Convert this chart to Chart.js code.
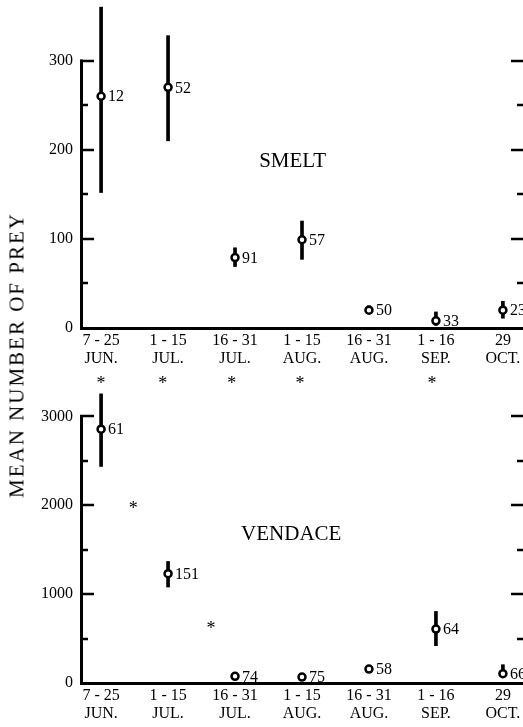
<!DOCTYPE html>
<html><head><meta charset="utf-8">
<script src="https://cdn.jsdelivr.net/npm/chart.js@4/dist/chart.umd.min.js"></script>
<style>
html,body{margin:0;padding:0;background:#fff;}
#wrap{position:relative;width:523px;height:727px;overflow:hidden;background:#fff;}
canvas{display:block;position:absolute;left:0;}
#c1{top:0}
#c2{top:392px}
#ytitle{position:absolute;left:17px;top:355px;transform:translate(-50%,-50%) rotate(-90deg);font:21px "Liberation Serif";letter-spacing:2px;white-space:nowrap;color:#000;}
</style></head>
<body><div id="wrap">
<canvas id="c1" width="523" height="392"></canvas>
<canvas id="c2" width="523" height="335"></canvas>
<div id="ytitle">MEAN NUMBER OF PREY</div>
</div>
<script>
// ---- data ----
const periods = ['7 - 25','1 - 15','16 - 31','1 - 15','16 - 31','1 - 16','29'];
const months  = ['JUN.','JUL.','JUL.','AUG.','AUG.','SEP.','OCT.'];

const smeltMean = [260, 270, 79, 99, 20, 8, 20];
const smeltLow  = [152, 210, 69, 77, 16, 3, 11];
const smeltHigh = [360, 328, 90, 120, 25, 18, 30];
const smeltN    = [12, 52, 91, 57, 50, 33, 23];

const vendaceMean = [2857, 1230, 75, 67, 157, 607, 105];
const vendaceLow  = [2437, 1080, 45, 40, 120, 420, 60];
const vendaceHigh = [3254, 1368, 105, 95, 195, 805, 206];
const vendaceN    = [61, 151, 74, 75, 58, 64, 66];

// significance asterisks (x in period index units)
const starsBetweenSpeciesX = [0, 0.92, 1.95, 2.97, 4.94];
const starsVendaceX = [0.48, 1.64];
const starsVendaceY = [2000, 656];

// y tick values (labels shown at majors)
const smeltTicks = [0, 50, 100, 150, 200, 250, 300];
const smeltMajor = 100;
const vendaceTicks = [0, 500, 1000, 1500, 2000, 2500, 3000];
const vendaceMajor = 1000;

// ---- decoration plugin ----
const deco = {
  id: 'deco',
  afterDatasetsDraw(chart, args, o) {
    const ctx = chart.ctx, ca = chart.chartArea, xs = chart.scales.x, ys = chart.scales.y;
    const axisMax = o.ticks[o.ticks.length - 1];
    ctx.save();
    ctx.strokeStyle = '#000'; ctx.fillStyle = '#000';
    ctx.lineWidth = 3;
    ctx.beginPath();
    ctx.moveTo(ca.left + 0.5, ys.getPixelForValue(0));
    ctx.lineTo(ca.left + 0.5, ys.getPixelForValue(axisMax) - 1);
    ctx.stroke();
    o.ticks.forEach(v => {
      if (v <= 0) return;
      const major = v % o.majorStep === 0;
      const y = Math.round(ys.getPixelForValue(v));
      ctx.lineWidth = 2.5;
      ctx.beginPath();
      ctx.moveTo(ca.left - 1, y); ctx.lineTo(ca.left + (major ? 13 : 7), y);
      ctx.moveTo(ca.right - (major ? 12 : 6), y); ctx.lineTo(ca.right, y);
      ctx.stroke();
    });
    ctx.font = '16px "Liberation Serif"'; ctx.textBaseline = 'middle'; ctx.textAlign = 'left';
    const meta = chart.getDatasetMeta(1);
    meta.data.forEach((pt, i) => ctx.fillText(String(o.n[i]), pt.x + 7, pt.y + 1));
    ctx.font = '21px "Liberation Serif"'; ctx.textAlign = 'center';
    ctx.fillText(o.title, xs.getPixelForValue(o.titleX), ys.getPixelForValue(o.titleY));
    ctx.font = '18px "Liberation Serif"'; ctx.textBaseline = 'alphabetic';
    (o.starsX || []).forEach((sx, i) => ctx.fillText('*', xs.getPixelForValue(sx), ys.getPixelForValue(o.starsY[i]) + 9));
    (o.belowStars || []).forEach(sx => ctx.fillText('*', xs.getPixelForValue(sx), ca.bottom + 52 + 9));
    ctx.restore();
  }
};

function makeChart(id, mean, lo, hi, n, cfg) {
  const font = {family: 'Liberation Serif', size: 16, lineHeight: 1.1};
  return new Chart(document.getElementById(id), {
    type: 'bar',
    data: {
      datasets: [
        {
          type: 'bar',
          data: mean.map((m, i) => ({x: i, y: [lo[i], hi[i]]})),
          backgroundColor: '#000', borderWidth: 0, barThickness: 3, order: 1
        },
        {
          type: 'line',
          data: mean.map((m, i) => ({x: i, y: m})),
          showLine: false, pointStyle: 'circle', pointRadius: 3.5, pointBorderWidth: 2.5,
          pointBackgroundColor: '#fff', pointBorderColor: '#000', order: 0
        }
      ]
    },
    options: {
      responsive: false, animation: false, events: [],
      layout: {padding: 0, autoPadding: false},
      plugins: {
        legend: {display: false}, tooltip: {enabled: false},
        deco: cfg.deco
      },
      scales: {
        x: {
          type: 'linear', min: -0.3, max: 6.3, bounds: 'data', offset: false,
          grid: {display: false, drawTicks: false},
          border: {display: true, width: 3, color: '#000'},
          ticks: {
            autoSkip: false, maxRotation: 0, minRotation: 0,
            padding: 4, color: '#000', font,
            callback: v => (Number.isInteger(v) && v >= 0 && v < periods.length) ? [periods[v], months[v]] : ''
          },
          afterBuildTicks(s) { s.ticks = periods.map((p, i) => ({value: i})); },
          afterFit(s) { s.height = cfg.xH; s.paddingLeft = 0; s.paddingRight = 0; }
        },
        y: {
          type: 'linear', min: 0, max: cfg.yMax, bounds: 'data',
          grid: {display: false, drawTicks: false},
          border: {display: false},
          ticks: {
            autoSkip: false, padding: 8, color: '#000', font,
            callback: v => (v % cfg.major === 0) ? String(v) : ''
          },
          afterBuildTicks(s) { s.ticks = cfg.ticks.map(v => ({value: v})); },
          afterFit(s) { s.width = 81; s.paddingTop = 0; s.paddingBottom = 0; }
        }
      }
    },
    plugins: [deco]
  });
}

makeChart('c1', smeltMean, smeltLow, smeltHigh, smeltN, {
  xH: 64, yMax: 368, major: smeltMajor, ticks: smeltTicks,
  deco: {ticks: smeltTicks, majorStep: smeltMajor, n: smeltN, title: 'SMELT', titleX: 2.86, titleY: 187,
         belowStars: starsBetweenSpeciesX}
});
makeChart('c2', vendaceMean, vendaceLow, vendaceHigh, vendaceN, {
  xH: 44, yMax: 3275, major: vendaceMajor, ticks: vendaceTicks,
  deco: {ticks: vendaceTicks, majorStep: vendaceMajor, n: vendaceN, title: 'VENDACE', titleX: 2.84, titleY: 1669,
         starsX: starsVendaceX, starsY: starsVendaceY}
});
</script>
</body></html>
